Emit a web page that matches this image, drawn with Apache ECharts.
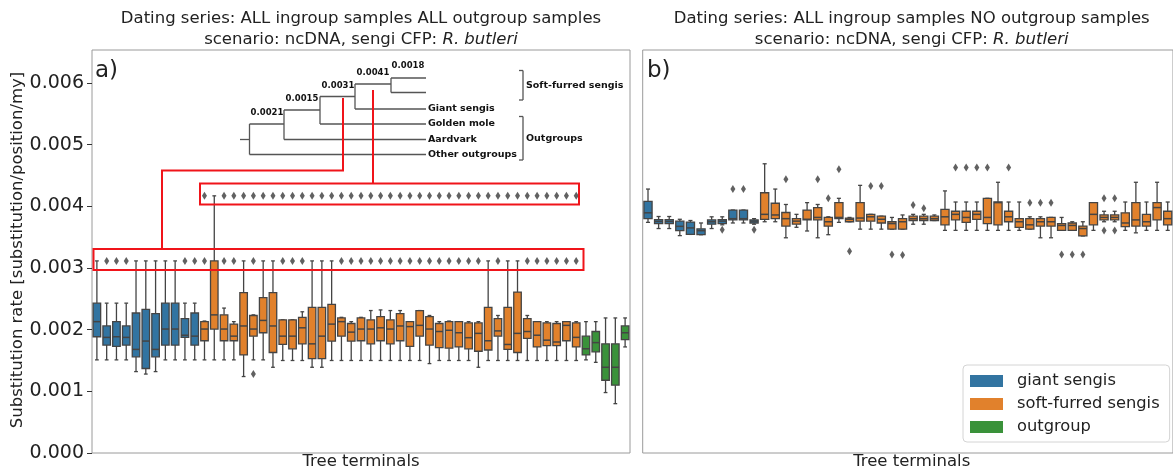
<!DOCTYPE html>
<html><head><meta charset="utf-8">
<script src="https://cdn.jsdelivr.net/npm/echarts@6/dist/echarts.min.js"></script>
<style>html,body{margin:0;padding:0;background:#fff}#c{width:1173px;height:471px}</style>
</head><body><div id="c"></div>
<script>
// ---------- data ----------
const groupNames = ['giant sengis', 'soft-furred sengis', 'outgroup'];
const yTicks = [0, 0.001, 0.002, 0.003, 0.004, 0.005, 0.006];

// each box: [whisker low, Q1, median, Q3, whisker high]
const leftGiantBoxes = [
  [0.00151,0.001885,0.00213,0.00243,0.003115],
  [0.00151,0.00175,0.001875,0.00206,0.00243],
  [0.00151,0.00173,0.001885,0.00213,0.00243],
  [0.00151,0.00175,0.001875,0.00206,0.00243],
  [0.00132,0.00156,0.00168,0.00227,0.003115],
  [0.00128,0.00137,0.001815,0.00233,0.003115],
  [0.00132,0.00156,0.00168,0.00226,0.003115],
  [0.00151,0.00175,0.00201,0.00243,0.003115],
  [0.00151,0.00175,0.00201,0.00243,0.003115],
  [0.00151,0.001875,0.00191,0.00218,0.00243],
  [0.00151,0.00175,0.001895,0.00227,0.00243]
];
const leftSoftBoxes = [
  [0.00151,0.00182,0.00201,0.00213,0.00214],
  [0.00151,0.00201,0.00224,0.003115,0.00417],
  [0.00151,0.00182,0.00201,0.00224,0.00235],
  [0.00151,0.00182,0.001895,0.00209,0.00213],
  [0.00124,0.00159,0.00206,0.0026,0.003115],
  [0.00151,0.001895,0.00201,0.00223,0.00224],
  [0.00151,0.00195,0.00215,0.00252,0.003115],
  [0.00139,0.00163,0.00206,0.0026,0.003115],
  [0.0015,0.00176,0.001895,0.00216,0.00216],
  [0.0015,0.00169,0.001895,0.00216,0.00216],
  [0.0015,0.00177,0.00203,0.0022,0.00229],
  [0.00139,0.00153,0.00177,0.00236,0.003115],
  [0.00139,0.00153,0.001895,0.00236,0.003115],
  [0.0015,0.001815,0.00209,0.00241,0.003115],
  [0.0015,0.001895,0.00213,0.00219,0.0022],
  [0.0015,0.001815,0.00196,0.0021,0.00213],
  [0.0015,0.00182,0.00201,0.00219,0.0022],
  [0.0015,0.00177,0.00201,0.00216,0.00231],
  [0.0015,0.00182,0.00203,0.00221,0.00232],
  [0.0015,0.00177,0.00201,0.00216,0.00231],
  [0.0015,0.00182,0.00206,0.00226,0.00231],
  [0.0015,0.00173,0.00205,0.00213,0.00213],
  [0.0015,0.001895,0.00207,0.00231,0.00231],
  [0.00145,0.00175,0.00201,0.00221,0.00223],
  [0.0015,0.00171,0.00197,0.0021,0.00213],
  [0.0015,0.0017,0.00199,0.00213,0.00214],
  [0.0015,0.00172,0.00195,0.00213,0.00213],
  [0.0015,0.00169,0.00187,0.00211,0.00213],
  [0.00139,0.00165,0.00194,0.00211,0.00213],
  [0.0015,0.00167,0.00182,0.00236,0.003115],
  [0.0015,0.001895,0.00198,0.00218,0.00223],
  [0.0015,0.00168,0.00176,0.00236,0.003115],
  [0.0015,0.00163,0.00194,0.00261,0.003115],
  [0.0015,0.00186,0.00197,0.00218,0.00223],
  [0.0015,0.00172,0.00191,0.00213,0.00213],
  [0.0015,0.00174,0.00183,0.00211,0.00213],
  [0.0015,0.00174,0.0018,0.0021,0.00213],
  [0.0015,0.00182,0.00207,0.00213,0.00213],
  [0.0015,0.00172,0.001875,0.00211,0.00213]
];
const leftOutgroupBoxes = [
  [0.00151,0.00159,0.00169,0.001895,0.00213],
  [0.00147,0.00164,0.00179,0.00197,0.00213],
  [0.00098,0.00118,0.00139,0.00177,0.00219],
  [0.0008,0.0011,0.00139,0.00177,0.00219],
  [0.00172,0.00184,0.00195,0.00206,0.00219]
];
// outliers: [terminal index, value]
const leftOutliers = [
  [1,0.003115],[2,0.003115],[3,0.003115],[9,0.003115],[10,0.003115],
  [11,0.003115],[13,0.003115],[14,0.003115],[16,0.003115],[19,0.003115],[20,0.003115],[21,0.003115],
  [25,0.003115],[26,0.003115],[27,0.003115],[28,0.003115],[29,0.003115],[30,0.003115],[31,0.003115],
  [32,0.003115],[33,0.003115],[34,0.003115],[35,0.003115],[36,0.003115],[37,0.003115],[38,0.003115],
  [39,0.003115],[41,0.003115],[44,0.003115],[45,0.003115],[46,0.003115],[47,0.003115],[48,0.003115],[49,0.003115],
  [11,0.00417],[13,0.00417],[14,0.00417],[15,0.00417],[16,0.00417],[17,0.00417],[18,0.00417],[19,0.00417],
  [20,0.00417],[21,0.00417],[22,0.00417],[23,0.00417],[24,0.00417],[25,0.00417],[26,0.00417],[27,0.00417],
  [28,0.00417],[29,0.00417],[30,0.00417],[31,0.00417],[32,0.00417],[33,0.00417],[34,0.00417],[35,0.00417],
  [36,0.00417],[37,0.00417],[38,0.00417],[39,0.00417],[40,0.00417],[41,0.00417],[42,0.00417],[43,0.00417],
  [44,0.00417],[45,0.00417],[46,0.00417],[47,0.00417],[48,0.00417],[49,0.00417],
  [16,0.00128]
];

const rightGiantBoxes = [
  [0.00374,0.0038,0.003895,0.00408,0.00428],
  [0.00364,0.00372,0.003755,0.003785,0.003835],
  [0.00364,0.00372,0.003755,0.003785,0.003835],
  [0.003525,0.003605,0.003675,0.00376,0.00379],
  [0.003545,0.003545,0.00365,0.003745,0.00377],
  [0.00354,0.00354,0.003605,0.003635,0.00373],
  [0.00364,0.00371,0.00375,0.00378,0.00383],
  [0.0037,0.00372,0.00376,0.003785,0.00383],
  [0.00373,0.00378,0.0038,0.00394,0.00394],
  [0.00373,0.00378,0.0038,0.00394,0.00394],
  [0.00371,0.00373,0.00376,0.00378,0.0038]
];
const rightSoftBoxes = [
  [0.00375,0.00379,0.00387,0.00422,0.00469],
  [0.00375,0.0038,0.00386,0.00405,0.00428],
  [0.00349,0.00368,0.0038,0.0039,0.00403],
  [0.00366,0.00371,0.00376,0.0038,0.00387],
  [0.0036,0.00378,0.00379,0.00394,0.00406],
  [0.00349,0.00378,0.00382,0.00398,0.00403],
  [0.00354,0.00368,0.00375,0.00382,0.00383],
  [0.00374,0.0038,0.00382,0.00406,0.00413],
  [0.00375,0.00375,0.00379,0.00381,0.00382],
  [0.00363,0.00376,0.00381,0.00406,0.00434],
  [0.00363,0.00376,0.00383,0.00387,0.00387],
  [0.00363,0.00373,0.00379,0.00384,0.00384],
  [0.00363,0.00363,0.00372,0.00375,0.00382],
  [0.00363,0.00363,0.00375,0.0038,0.00386],
  [0.00371,0.00377,0.0038,0.00384,0.00387],
  [0.00371,0.00377,0.0038,0.00384,0.00387],
  [0.00377,0.00377,0.0038,0.00384,0.00386],
  [0.00361,0.0037,0.00383,0.00395,0.00425],
  [0.00361,0.00378,0.00387,0.00392,0.00407],
  [0.00361,0.00374,0.00382,0.00392,0.00407],
  [0.00361,0.00379,0.00387,0.00392,0.00407],
  [0.00361,0.00372,0.00382,0.00413,0.00413],
  [0.00361,0.0037,0.00406,0.00407,0.00439],
  [0.00361,0.00375,0.00383,0.00392,0.00407],
  [0.00361,0.00366,0.00375,0.0038,0.00407],
  [0.00363,0.00363,0.0037,0.0038,0.00383],
  [0.00349,0.00368,0.00375,0.0038,0.00383],
  [0.00349,0.00368,0.00375,0.00382,0.00382],
  [0.00361,0.00361,0.00369,0.00372,0.00382],
  [0.00361,0.00361,0.00369,0.00373,0.00375],
  [0.00352,0.00352,0.00364,0.00368,0.00375],
  [0.00361,0.0037,0.00387,0.00406,0.00406],
  [0.00375,0.00378,0.00382,0.00386,0.00392],
  [0.00375,0.00378,0.00382,0.00386,0.00392],
  [0.00361,0.00367,0.00373,0.003895,0.00407],
  [0.00357,0.00368,0.00378,0.00406,0.00439],
  [0.00361,0.00368,0.00375,0.00387,0.00407],
  [0.00361,0.00378,0.00398,0.00406,0.00439],
  [0.00361,0.0037,0.0038,0.00392,0.00407]
];
const rightOutliers = [
  [7,0.00362],[8,0.00428],[9,0.00428],[10,0.00362],
  [13,0.00444],[16,0.00444],[17,0.00413],[18,0.0046],[19,0.00327],
  [21,0.00433],[22,0.00433],[23,0.00322],[24,0.00321],[25,0.00402],[26,0.00397],
  [29,0.00463],[30,0.00463],[31,0.00463],[32,0.00463],[34,0.00463],
  [36,0.00406],[37,0.00406],[38,0.00406],[39,0.00322],[40,0.00322],[41,0.00322],
  [43,0.00413],[43,0.00361],[44,0.00413],[44,0.00361]
];

// ---------- helpers ----------
const FONT = '"DejaVu Sans", "Liberation Sans", sans-serif';
const groupColors = ['#3274a1', '#e1812c', '#3a923a'];
const lineColor = '#444444';
const TXT = 16.5;

function buildBoxes(groups) {
  const out = []; let idx = 0;
  groups.forEach((boxes, g) => boxes.forEach(b => { out.push([idx, b[0], b[1], b[2], b[3], b[4], g]); idx++; }));
  return out;
}
function buildCats(groups) {
  const out = [];
  groups.forEach((boxes, g) => boxes.forEach((b, i) => out.push(groupNames[g] + ' ' + (i + 1))));
  return out;
}
const leftGroups = [leftGiantBoxes, leftSoftBoxes, leftOutgroupBoxes];
const rightGroups = [rightGiantBoxes, rightSoftBoxes];
const leftCats = buildCats(leftGroups);
const rightCats = buildCats(rightGroups);

function renderBox(params, api) {
  const x = api.value(0);
  const pMin = api.coord([x, api.value(1)]);
  const pQ1 = api.coord([x, api.value(2)]);
  const pMed = api.coord([x, api.value(3)]);
  const pQ3 = api.coord([x, api.value(4)]);
  const pMax = api.coord([x, api.value(5)]);
  const band = api.size([1, 0])[0];
  const w = band * 0.77;
  const cap = w / 4;
  const cx = pMin[0];
  const st = { stroke: lineColor, lineWidth: 1.3 };
  return {
    type: 'group',
    children: [
      { type: 'line', shape: { x1: cx, y1: pMax[1], x2: cx, y2: pQ3[1] }, style: st },
      { type: 'line', shape: { x1: cx, y1: pQ1[1], x2: cx, y2: pMin[1] }, style: st },
      { type: 'line', shape: { x1: cx - cap, y1: pMax[1], x2: cx + cap, y2: pMax[1] }, style: st },
      { type: 'line', shape: { x1: cx - cap, y1: pMin[1], x2: cx + cap, y2: pMin[1] }, style: st },
      { type: 'rect', shape: { x: cx - w / 2, y: pQ3[1], width: w, height: pQ1[1] - pQ3[1] },
        style: { fill: groupColors[api.value(6)], stroke: lineColor, lineWidth: 1.3 } },
      { type: 'line', shape: { x1: cx - w / 2, y1: pMed[1], x2: cx + w / 2, y2: pMed[1] }, style: { stroke: lineColor, lineWidth: 1.5 } }
    ]
  };
}

// ---------- inset / annotation graphics ----------
const treeStroke = { stroke: '#555', lineWidth: 1.3 };
const treeSegs = [
  [240,139.5,249.5,139.5],[249.5,124,249.5,154.5],[249.5,154.5,426,154.5],[249.5,124,284,124],
  [284,110,284,139.5],[284,139.5,426,139.5],[284,110,320,110],
  [320,96.5,320,124],[320,124,426,124],[320,96.5,355,96.5],
  [355,84,355,109],[355,109,426,109],[355,84,391,84],
  [391,78,391,92.5],[391,78,426,78],[391,92.5,426,92.5],
  [523,70.5,523,100],[519,70.5,523,70.5],[519,100,523,100],
  [523,116.5,523,160],[519,116.5,523,116.5],[519,160,523,160]
];
const treeNums = [['0.0021',267,117],['0.0015',302,103],['0.0031',338,90],['0.0041',373,77],['0.0018',408,70]];
const treeLabels = [['Giant sengis',428,109],['Golden mole',428,124],['Aardvark',428,139.5],['Other outgroups',428,154.5],
  ['Soft-furred sengis',526,86],['Outgroups',526,139]];

const graphics = [];
treeSegs.forEach(s => graphics.push({ type: 'line', silent: true, z: 5, shape: { x1: s[0], y1: s[1], x2: s[2], y2: s[3] }, style: treeStroke }));
treeNums.forEach(t => graphics.push({ type: 'text', z: 5, x: t[1], y: t[2], style: { text: t[0], font: 'bold 8.5px ' + FONT, fill: '#111', align: 'center', verticalAlign: 'bottom', textAlign: 'center', textVerticalAlign: 'bottom' } }));
treeLabels.forEach(t => graphics.push({ type: 'text', z: 5, x: t[1], y: t[2], style: { text: t[0], font: 'bold 9.5px ' + FONT, fill: '#111', align: 'left', verticalAlign: 'middle', textAlign: 'left', textVerticalAlign: 'middle' } }));

const red = { stroke: '#f0141a', lineWidth: 2, fill: 'none' };
graphics.push({ type: 'polyline', z: 10, shape: { points: [[343,98],[343,170.5],[162,170.5],[162,249]] }, style: red });
graphics.push({ type: 'rect', z: 10, shape: { x: 93.5, y: 249, width: 490, height: 21 }, style: red });
graphics.push({ type: 'polyline', z: 10, shape: { points: [[373,90],[373,183.5]] }, style: red });
graphics.push({ type: 'rect', z: 10, shape: { x: 200, y: 183.5, width: 379, height: 21 }, style: red });

// titles, axis names, panel letters
function txt(text, x, y, size, extra) {
  return Object.assign({ type: 'text', z: 5, x: x, y: y, style: Object.assign({ text: text, font: size + 'px ' + FONT, fill: '#222', align: 'center', verticalAlign: 'middle', textAlign: 'center', textVerticalAlign: 'middle' }, extra || {}) });
}
const richIt = { i: { fontStyle: 'italic', fontSize: TXT, fontFamily: FONT, fill: '#222' }, n: { fontSize: TXT, fontFamily: FONT, fill: '#222' } };
graphics.push(txt('Dating series: ALL ingroup samples ALL outgroup samples', 361, 19, TXT));
graphics.push(txt('{n|scenario: ncDNA, sengi CFP: }{i|R. butleri}', 361, 40, TXT, { rich: richIt }));
graphics.push(txt('Dating series: ALL ingroup samples NO outgroup samples', 911.7, 19, TXT));
graphics.push(txt('{n|scenario: ncDNA, sengi CFP: }{i|R. butleri}', 911.7, 40, TXT, { rich: richIt }));
graphics.push(txt('Tree terminals', 361, 462, TXT));
graphics.push(txt('Tree terminals', 911.7, 462, TXT));
graphics.push(Object.assign(txt('Substitution rate [substitution/position/my]', 18, 250, TXT), { rotation: Math.PI / 2 }));
graphics.push(txt('a)', 95, 71, 23, { align: 'left', textAlign: 'left' }));
graphics.push(txt('b)', 647, 71, 23, { align: 'left', textAlign: 'left' }));

// ---------- chart ----------
const chart = echarts.init(document.getElementById('c'));
const yCommon = { type: 'value', min: 0, max: 0.006535, interval: 0.001, splitLine: { show: false }, axisLine: { show: false } };
chart.setOption({
  animation: false,
  backgroundColor: '#fff',
  grid: [
    { left: 92, top: 50, width: 538, height: 403, show: true, borderColor: '#9a9a9a', borderWidth: 1 },
    { left: 642.7, top: 50, width: 538, height: 403, show: true, borderColor: '#9a9a9a', borderWidth: 1 }
  ],
  xAxis: [
    { type: 'category', gridIndex: 0, data: leftCats, axisLine: { show: false }, axisTick: { show: false }, axisLabel: { show: false } },
    { type: 'category', gridIndex: 1, data: rightCats, axisLine: { show: false }, axisTick: { show: false }, axisLabel: { show: false } }
  ],
  yAxis: [
    Object.assign({}, yCommon, { gridIndex: 0,
      axisTick: { show: true, length: 5, lineStyle: { color: '#333' }, customValues: yTicks },
      axisLabel: { customValues: yTicks, formatter: v => v.toFixed(3), fontSize: 19, color: '#222', fontFamily: FONT, margin: 8 } }),
    Object.assign({}, yCommon, { gridIndex: 1, axisTick: { show: false }, axisLabel: { show: false } })
  ],
  legend: {
    orient: 'vertical', left: 963, top: 365, data: groupNames, icon: 'rect',
    itemWidth: 33, itemHeight: 12, itemGap: 7, selectedMode: false,
    padding: [8, 10, 7, 7], backgroundColor: '#fff', borderColor: '#d4d4d4', borderWidth: 1, borderRadius: 4,
    textStyle: { fontFamily: FONT, fontSize: 16.3, color: '#222', padding: [0, 0, 0, 9] }
  },
  graphic: graphics,
  series: [
    { type: 'custom', name: 'boxes a', xAxisIndex: 0, yAxisIndex: 0, renderItem: renderBox, data: buildBoxes(leftGroups), encode: { x: 0, y: [1, 2, 3, 4, 5] }, z: 2 },
    { type: 'scatter', name: 'outliers a', xAxisIndex: 0, yAxisIndex: 0, data: leftOutliers, symbol: 'diamond', symbolSize: [5, 8], itemStyle: { color: '#3a3a3a' }, z: 3 },
    { type: 'custom', name: 'boxes b', xAxisIndex: 1, yAxisIndex: 1, renderItem: renderBox, data: buildBoxes(rightGroups), encode: { x: 0, y: [1, 2, 3, 4, 5] }, z: 2 },
    { type: 'scatter', name: 'outliers b', xAxisIndex: 1, yAxisIndex: 1, data: rightOutliers, symbol: 'diamond', symbolSize: [5, 8], itemStyle: { color: '#3a3a3a' }, z: 3 },
    { type: 'bar', name: groupNames[0], xAxisIndex: 1, yAxisIndex: 1, data: [], itemStyle: { color: groupColors[0] } },
    { type: 'bar', name: groupNames[1], xAxisIndex: 1, yAxisIndex: 1, data: [], itemStyle: { color: groupColors[1] } },
    { type: 'bar', name: groupNames[2], xAxisIndex: 1, yAxisIndex: 1, data: [], itemStyle: { color: groupColors[2] } }
  ]
});
</script>
</body></html>
